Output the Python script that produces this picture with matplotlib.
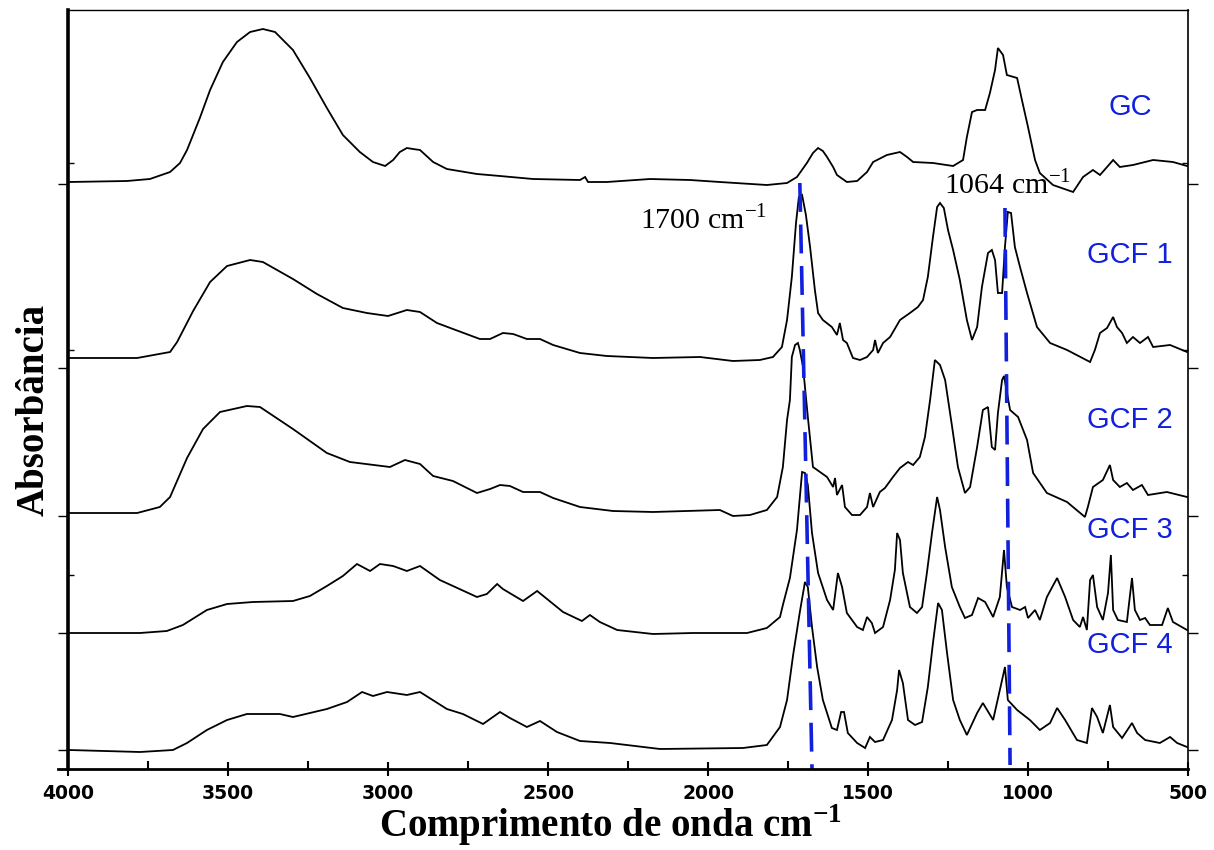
import matplotlib
matplotlib.use("Agg")
import matplotlib.pyplot as plt
from matplotlib.ticker import FixedLocator, NullFormatter

plt.rcParams['mathtext.fontset'] = 'custom'
plt.rcParams['mathtext.rm'] = 'Liberation Serif'
plt.rcParams['mathtext.bf'] = 'Liberation Serif:bold'

# ---------------- data (stacked absorbance, arbitrary units) ----------------
gc_wn = [3997, 3816, 3744, 3681, 3650, 3628, 3588, 3556, 3516, 3472, 3431, 3391, 3353, 3297, 3244,
         3191, 3141, 3088, 3047, 3009, 2984, 2963, 2941, 2922, 2900, 2859, 2816, 2722, 2650, 2547,
         2400, 2384, 2375, 2316, 2181, 2056, 1963, 1816, 1753, 1722, 1691, 1672, 1656, 1641, 1628,
         1609, 1597, 1566, 1534, 1503, 1484, 1441, 1400, 1378, 1359, 1297, 1234, 1203, 1191, 1175,
         1159, 1134, 1119, 1103, 1094, 1078, 1066, 1034, 1019, 1000, 978, 963, 922, 859, 828, 797,
         775, 753, 734, 713, 672, 609, 547, 503]
gc_abs = [587, 588, 590, 597, 606, 619, 651, 679, 707, 727, 737, 740, 737, 719, 691,
          661, 634, 617, 607, 603, 609, 617, 621, 620, 619, 607, 600, 595, 593, 590,
          589, 592, 587, 587, 590, 589, 587, 584, 586, 592, 606, 616, 621, 618, 612,
          602, 594, 587, 588, 597, 607, 614, 617, 612, 607, 606, 603, 609, 632, 657,
          659, 659, 676, 699, 721, 714, 694, 691, 669, 642, 609, 596, 584, 577, 592, 599,
          594, 602, 609, 602, 604, 609, 607, 603]

gcf1_wn = [3997, 3784, 3681, 3659, 3609, 3556, 3503, 3431, 3391, 3297, 3222, 3141, 3066, 3000, 2941,
           2900, 2847, 2797, 2713, 2681, 2641, 2609, 2566, 2525, 2484, 2400, 2316, 2172, 2025, 1922,
           1838, 1797, 1769, 1753, 1738, 1725, 1716, 1706, 1694, 1681, 1666, 1656, 1641, 1613, 1597,
           1588, 1578, 1566, 1547, 1525, 1503, 1484, 1478, 1469, 1453, 1431, 1400, 1369, 1344, 1328,
           1313, 1297, 1284, 1275, 1263, 1250, 1234, 1213, 1191, 1175, 1159, 1144, 1125, 1113, 1103,
           1094, 1081, 1072, 1063, 1053, 1041, 1025, 1003, 972, 931, 878, 806, 791, 775, 753,
           734, 722, 706, 691, 672, 650, 625, 609, 556, 503]
gcf1_abs = [411, 411, 417, 427, 458, 487, 503, 509, 507, 490, 475, 461, 456, 453, 459,
            457, 446, 440, 430, 430, 436, 435, 430, 430, 424, 416, 413, 411, 412, 408,
            409, 412, 422, 449, 492, 546, 572, 574, 554, 522, 479, 456, 449, 442, 434,
            446, 429, 426, 411, 409, 412, 419, 429, 416, 426, 432, 449, 456, 462, 469,
            492, 532, 562, 566, 561, 539, 519, 489, 449, 429, 442, 482, 516, 519, 509,
            476, 476, 522, 557, 556, 522, 502, 476, 442, 426, 419, 407, 419, 436, 441,
            452, 442, 436, 426, 432, 426, 432, 422, 424, 417]

gcf2_wn = [3997, 3784, 3713, 3681, 3628, 3578, 3525, 3441, 3400, 3297, 3191, 3119, 2994, 2947, 2900,
           2859, 2797, 2722, 2681, 2650, 2619, 2578, 2525, 2484, 2400, 2297, 2172, 1963, 1922, 1869,
           1816, 1784, 1766, 1753, 1744, 1738, 1728, 1719, 1713, 1703, 1688, 1672, 1650, 1628, 1609,
           1603, 1597, 1581, 1572, 1550, 1525, 1503, 1494, 1484, 1463, 1447, 1422, 1400, 1375, 1359,
           1338, 1322, 1306, 1291, 1275, 1259, 1238, 1219, 1197, 1181, 1159, 1141, 1125, 1113, 1103,
           1094, 1081, 1075, 1056, 1031, 1003, 984, 941, 878, 822, 813, 797, 766, 744, 734,
           713, 691, 672, 644, 625, 566, 503]
gcf2_abs = [256, 256, 262, 272, 311, 340, 357, 363, 362, 340, 316, 307, 302, 309, 305,
            293, 288, 276, 280, 284, 283, 277, 277, 271, 262, 258, 257, 259, 253, 254,
            259, 272, 302, 349, 369, 412, 424, 426, 419, 402, 352, 302, 297, 292, 282,
            291, 274, 284, 262, 254, 254, 262, 276, 262, 277, 281, 292, 301, 307, 304,
            312, 332, 369, 409, 404, 389, 344, 302, 276, 282, 322, 359, 362, 322, 319,
            356, 389, 393, 359, 352, 329, 296, 276, 267, 252, 262, 282, 289, 304, 289,
            282, 286, 279, 284, 274, 277, 272]

gcf3_wn = [3997, 3775, 3691, 3641, 3566, 3503, 3422, 3297, 3244, 3191, 3141, 3097, 3056, 3025, 2984,
           2941, 2900, 2838, 2797, 2722, 2691, 2659, 2641, 2578, 2534, 2503, 2453, 2394, 2369, 2338,
           2284, 2172, 2047, 1878, 1816, 1775, 1766, 1744, 1722, 1706, 1697, 1688, 1675, 1656, 1628,
           1609, 1594, 1581, 1566, 1534, 1516, 1503, 1488, 1478, 1453, 1431, 1416, 1409, 1400, 1391,
           1369, 1347, 1331, 1316, 1300, 1284, 1275, 1259, 1238, 1213, 1197, 1175, 1156, 1134, 1109,
           1088, 1075, 1066, 1050, 1025, 1009, 1000, 978, 963, 941, 909, 884, 859, 838, 828,
           816, 806, 797, 784, 766, 750, 741, 734, 719, 691, 675, 666, 650, 634, 619,
           581, 563, 547, 503]
gcf3_abs = [136, 136, 138, 144, 159, 165, 167, 168, 173, 183, 193, 205, 198, 205, 203,
            198, 203, 189, 183, 172, 175, 185, 180, 168, 178, 170, 157, 148, 154, 147,
            139, 135, 136, 136, 141, 152, 164, 191, 239, 297, 296, 284, 236, 196, 169,
            159, 196, 182, 156, 142, 139, 152, 146, 136, 142, 169, 199, 236, 229, 196,
            162, 156, 162, 196, 236, 272, 259, 222, 182, 162, 151, 154, 171, 167, 152,
            172, 219, 182, 162, 159, 162, 151, 159, 149, 172, 191, 172, 149, 142, 152,
            139, 189, 194, 162, 149, 176, 214, 159, 149, 147, 191, 159, 149, 151, 144,
            144, 161, 147, 139]

gcf4_wn = [3997, 3775, 3672, 3628, 3566, 3503, 3441, 3338, 3297, 3191, 3128, 3081, 3047, 3003, 2941,
           2900, 2816, 2766, 2703, 2650, 2619, 2566, 2525, 2472, 2400, 2306, 2150, 1891, 1816, 1775,
           1753, 1734, 1713, 1697, 1688, 1675, 1659, 1641, 1613, 1597, 1584, 1575, 1563, 1534, 1509,
           1494, 1478, 1453, 1425, 1409, 1403, 1391, 1375, 1353, 1331, 1313, 1297, 1281, 1269, 1253,
           1234, 1213, 1191, 1159, 1141, 1109, 1081, 1072, 1063, 1034, 994, 963, 931, 909, 884,
           847, 816, 800, 784, 766, 744, 734, 706, 675, 659, 634, 588, 556, 534, 503]
gcf4_abs = [19, 17, 19, 26, 39, 49, 55, 55, 52, 60, 67, 77, 73, 77, 74,
            77, 60, 55, 45, 57, 51, 42, 48, 37, 28, 26, 20, 21, 24, 42,
            69, 114, 157, 187, 182, 142, 102, 69, 41, 39, 57, 57, 36, 26, 21,
            32, 27, 29, 49, 79, 99, 86, 49, 44, 47, 82, 126, 166, 159, 116,
            69, 49, 34, 56, 66, 49, 89, 102, 69, 59, 49, 39, 46, 61, 49,
            29, 26, 61, 52, 36, 64, 42, 31, 46, 36, 29, 26, 32, 26, 22]

series_names = ["GC", "GCF 1", "GCF 2", "GCF 3", "GCF 4"]
series_wn = [gc_wn, gcf1_wn, gcf2_wn, gcf3_wn, gcf4_wn]
series_abs = [gc_abs, gcf1_abs, gcf2_abs, gcf3_abs, gcf4_abs]

# marker lines (wavenumber at top / bottom end, stacked absorbance at ends)
marker_labels = ["1700 cm$^{-1}$", "1064 cm$^{-1}$"]
marker_wn = [(1713, 1675), (1072, 1056)]
marker_y = [(586, 0), (561, 4)]

x_major = [4000, 3500, 3000, 2500, 2000, 1500, 1000, 500]
x_minor = [3750, 3250, 2750, 2250, 1750, 1250, 750]

# ---------------- figure ----------------
fig = plt.figure(figsize=(12.14, 8.5), dpi=100)
ax = fig.add_axes([68 / 1214, 81 / 850, 1120 / 1214, 759 / 850])

for wn, ab in zip(series_wn, series_abs):
    ax.plot(wn, ab, color='black', lw=1.3, solid_joinstyle='miter')

blue = '#1020dd'
for (w0, w1), (y0, y1) in zip(marker_wn, marker_y):
    ax.plot([w0, w1], [y0, y1], color=blue, lw=2.6, dashes=(8, 3.5))

ax.set_xlim(4000, 500)
ax.set_ylim(0, 759)

ax.xaxis.set_major_locator(FixedLocator(x_major))
ax.xaxis.set_minor_locator(FixedLocator(x_minor))
ax.set_xticklabels([str(v) for v in x_major])
ax.tick_params(axis='x', which='major', direction='inout', length=10, width=1.5, pad=6)
ax.tick_params(axis='x', which='minor', direction='in', length=6, width=1.5)
for lab in ax.get_xticklabels():
    lab.set_fontfamily('DejaVu Sans')
    lab.set_fontweight('bold')
    lab.set_fontsize(13.5)

ax.yaxis.set_major_locator(FixedLocator([585, 401, 253, 136, 19]))
ax.yaxis.set_minor_locator(FixedLocator([606, 419, 194]))
ax.yaxis.set_major_formatter(NullFormatter())
ax.tick_params(axis='y', which='major', direction='out', length=7, width=1, right=True)
ax.tick_params(axis='y', which='minor', direction='in', length=4, width=1, right=True)

ax.spines['left'].set_linewidth(2.6)
ax.spines['bottom'].set_linewidth(2.0)
ax.spines['top'].set_linewidth(1.0)
ax.spines['right'].set_linewidth(1.2)
ax.plot([4030, 4000], [0, 0], color='black', lw=2.0, clip_on=False)

# series labels
label_y = [662, 514, 349, 239, 124]
for name, ly in zip(series_names, label_y):
    ax.text(681, ly, name, color=blue, fontsize=21, family='Liberation Sans',
            ha='center', va='center')

# marker annotations
ax.text(2212, 549, marker_labels[0], fontsize=21.5, family='Liberation Serif',
        ha='left', va='center', color='black')
ax.text(1262, 584, marker_labels[1], fontsize=21.5, family='Liberation Serif',
        ha='left', va='center', color='black')

xl = ax.set_xlabel("Comprimento de onda cm$^{\\mathbf{-1}}$", fontsize=28,
                   family='Liberation Serif', fontweight='bold')
xl.set_va('center')
ax.xaxis.set_label_coords(0.484, -0.074)
yl = ax.set_ylabel("Absorbância", fontsize=28, family='Liberation Serif',
                   fontweight='bold')
yl.set_va('center')
ax.yaxis.set_label_coords(-0.03, 0.473)

fig.savefig("out.png", dpi=100)
